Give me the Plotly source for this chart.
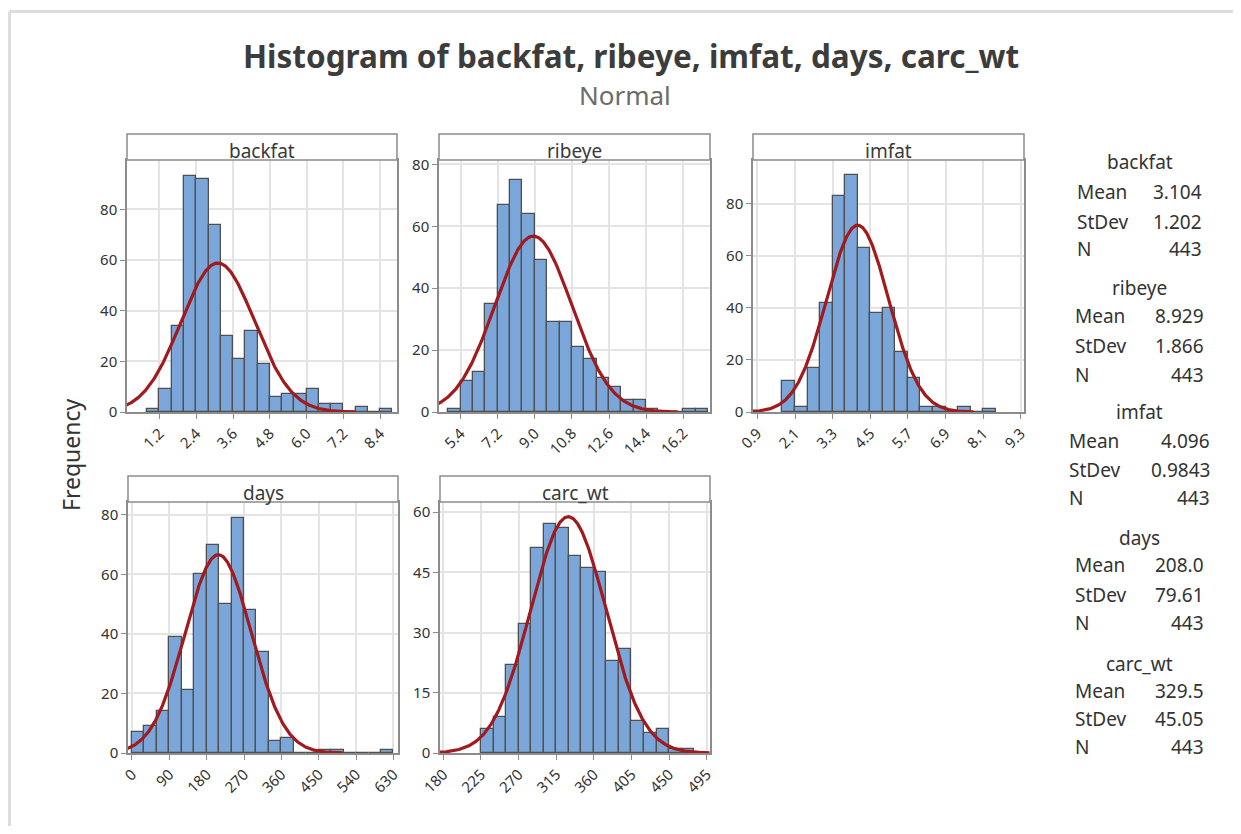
import numpy as np
import plotly.graph_objects as go

# the page body adds an 8px margin; the figure is sized to fit the 1241x834 window
OFF = 8
W, H = 1241 - 2 * OFF, 834 - 2 * OFF

# ---------------- data ----------------
variables = ["backfat", "ribeye", "imfat", "days", "carc_wt"]

backfat_first_edge = 0.8
backfat_bin_width = 0.4
backfat_counts = [1, 9, 34, 93, 92, 74, 30, 21, 32, 19, 6, 7, 7, 9, 3, 3, 0, 2, 0, 1]

ribeye_first_edge = 4.8
ribeye_bin_width = 0.6
ribeye_counts = [1, 10, 13, 35, 67, 75, 64, 49, 29, 29, 21, 17, 11, 8, 4, 4, 1, 0, 0, 1, 1]

imfat_first_edge = 1.7
imfat_bin_width = 0.4
imfat_counts = [12, 2, 17, 42, 83, 91, 63, 38, 40, 23, 13, 2, 2, 0, 2, 0, 1]

days_first_edge = 0
days_bin_width = 30
days_counts = [7, 9, 14, 39, 21, 60, 70, 50, 79, 48, 34, 4, 5, 0, 0, 1, 1, 0, 0, 0, 1]

carc_wt_first_edge = 225
carc_wt_bin_width = 15
carc_wt_counts = [6, 9, 22, 32, 51, 57, 56, 49, 46, 45, 23, 26, 8, 5, 6, 1, 1]

means = [3.104, 8.929, 4.096, 208.0, 329.5]
stdevs = [1.202, 1.866, 0.9843, 79.61, 45.05]
n_obs = [443, 443, 443, 443, 443]
mean_text = ["3.104", "8.929", "4.096", "208.0", "329.5"]
stdev_text = ["1.202", "1.866", "0.9843", "79.61", "45.05"]
n_text = ["443", "443", "443", "443", "443"]

backfat_ticks = [1.2, 2.4, 3.6, 4.8, 6.0, 7.2, 8.4]
backfat_ticktext = ["1.2", "2.4", "3.6", "4.8", "6.0", "7.2", "8.4"]
ribeye_ticks = [5.4, 7.2, 9.0, 10.8, 12.6, 14.4, 16.2]
ribeye_ticktext = ["5.4", "7.2", "9.0", "10.8", "12.6", "14.4", "16.2"]
imfat_ticks = [0.9, 2.1, 3.3, 4.5, 5.7, 6.9, 8.1, 9.3]
imfat_ticktext = ["0.9", "2.1", "3.3", "4.5", "5.7", "6.9", "8.1", "9.3"]
days_ticks = [0, 90, 180, 270, 360, 450, 540, 630]
days_ticktext = ["0", "90", "180", "270", "360", "450", "540", "630"]
carc_wt_ticks = [180, 225, 270, 315, 360, 405, 450, 495]
carc_wt_ticktext = ["180", "225", "270", "315", "360", "405", "450", "495"]

freq_ticks_a = [0, 20, 40, 60, 80]
freq_ticks_b = [0, 15, 30, 45, 60]

# ---------------- layout constants ----------------
FONT = "Noto Sans"
BAR_FILL = "#7BA6D9"
BAR_LINE = "#4F4F4F"
CURVE = "#A01A1E"
FRAME = "#8C8C8C"
GRID = "#E4E4E4"
TXT = "#333333"

# panel pixel boxes in window pixels: (left, right, top, bottom) of plot area
panels = [
    (127, 397, 160, 412),
    (439, 710, 160, 412),
    (753, 1024, 160, 412),
    (128, 398, 502, 753),
    (440, 710, 502, 753),
]
strip_h = 26
x_ranges = [(0.14, 8.95), (4.35, 17.5), (0.76, 9.4), (-9.6, 641), (176, 499)]
y_ranges = [(0, 99.5), (0, 81.4), (0, 96.9), (0, 84.3), (0, 62.5)]

hist = [
    (backfat_first_edge, backfat_bin_width, backfat_counts, backfat_ticks, backfat_ticktext, freq_ticks_a),
    (ribeye_first_edge, ribeye_bin_width, ribeye_counts, ribeye_ticks, ribeye_ticktext, freq_ticks_a),
    (imfat_first_edge, imfat_bin_width, imfat_counts, imfat_ticks, imfat_ticktext, freq_ticks_a),
    (days_first_edge, days_bin_width, days_counts, days_ticks, days_ticktext, freq_ticks_a),
    (carc_wt_first_edge, carc_wt_bin_width, carc_wt_counts, carc_wt_ticks, carc_wt_ticktext, freq_ticks_b),
]


def px_x(p):
    return (p - OFF) / W


def px_y(p):
    return 1 - (p - OFF) / H


TICK_SIZE = 15
STAT_SIZE = 19

fig = go.Figure()
layout = dict(
    width=W, height=H,
    margin=dict(l=0, r=0, t=0, b=0, pad=0, autoexpand=False),
    paper_bgcolor="white", plot_bgcolor="white",
    showlegend=False,
    font=dict(family=FONT, color=TXT),
)
shapes = []
annotations = []

for i, name in enumerate(variables):
    first, bw, counts, xt, xtt, yt = hist[i]
    ax = "" if i == 0 else str(i + 1)
    centers = [first + bw * (k + 0.5) for k in range(len(counts))]
    fig.add_trace(go.Bar(
        x=centers, y=counts, width=bw,
        marker=dict(color=BAR_FILL, line=dict(color=BAR_LINE, width=1.3)),
        xaxis="x" + ax, yaxis="y" + ax, hoverinfo="x+y",
    ))
    # fitted normal curve
    mu, sd, n = means[i], stdevs[i], n_obs[i]
    xs = np.linspace(mu - 3.75 * sd, mu + 3.75 * sd, 400)
    ys = n * bw / (sd * np.sqrt(2 * np.pi)) * np.exp(-0.5 * ((xs - mu) / sd) ** 2)
    fig.add_trace(go.Scatter(
        x=xs, y=ys, mode="lines", line=dict(color=CURVE, width=3.2),
        xaxis="x" + ax, yaxis="y" + ax, hoverinfo="skip",
    ))
    l, r, t, b = panels[i]
    layout["xaxis" + ax] = dict(
        domain=[px_x(l), px_x(r)], anchor="y" + ax, range=list(x_ranges[i]),
        tickvals=xt, ticktext=xtt, tickangle=-45, automargin=False,
        ticks="outside", ticklen=5, tickcolor=FRAME, tickwidth=1,
        tickfont=dict(size=TICK_SIZE, color=TXT, family=FONT),
        showgrid=True, gridcolor=GRID, gridwidth=1.5,
        showline=True, linecolor=FRAME, linewidth=1.5, mirror=True,
        zeroline=False, fixedrange=True,
    )
    layout["yaxis" + ax] = dict(
        domain=[px_y(b), px_y(t)], anchor="x" + ax, range=list(y_ranges[i]),
        tickvals=yt, ticks="outside", ticklen=5, tickcolor=FRAME, tickwidth=1,
        automargin=False,
        tickfont=dict(size=TICK_SIZE, color=TXT, family=FONT),
        showgrid=True, gridcolor=GRID, gridwidth=1.5,
        showline=True, linecolor=FRAME, linewidth=1.5, mirror=True,
        zeroline=False, fixedrange=True,
    )
    # strip
    shapes.append(dict(
        type="rect", xref="paper", yref="paper",
        x0=px_x(l), x1=px_x(r), y0=px_y(t), y1=px_y(t - strip_h),
        fillcolor="white", line=dict(color=FRAME, width=1.5), layer="above",
    ))
    annotations.append(dict(
        text=name, xref="paper", yref="paper",
        x=px_x((l + r) / 2), y=px_y(t + 6), xanchor="center", yanchor="bottom",
        showarrow=False, font=dict(size=19, color="#3A3A3A", family=FONT),
    ))

# outer light frame (top and left edges visible)
shapes.append(dict(
    type="line", xref="paper", yref="paper",
    x0=px_x(9.5), x1=1.0, y0=px_y(11.5), y1=px_y(11.5),
    line=dict(color="#DDDDDD", width=3), layer="below",
))
shapes.append(dict(
    type="line", xref="paper", yref="paper",
    x0=px_x(9.5), x1=px_x(9.5), y0=px_y(11.5), y1=0.0,
    line=dict(color="#DDDDDD", width=3), layer="below",
))

# titles
annotations.append(dict(
    text="<b>Histogram of backfat, ribeye, imfat, days, carc_wt</b>",
    xref="paper", yref="paper", x=px_x(631), y=px_y(55),
    xanchor="center", yanchor="middle", showarrow=False,
    font=dict(size=31.5, color="#3C3C3C", family=FONT),
))
annotations.append(dict(
    text="Normal", xref="paper", yref="paper", x=px_x(625), y=px_y(95),
    xanchor="center", yanchor="middle", showarrow=False,
    font=dict(size=26, color="#6B6B6B", family=FONT),
))
annotations.append(dict(
    text="Frequency", xref="paper", yref="paper", x=px_x(71), y=px_y(455),
    xanchor="center", yanchor="middle", showarrow=False, textangle=-90,
    font=dict(size=23, color=TXT, family=FONT),
))

# statistics panel
stat_blocks = [
    # header y, mean y, stdev y, n y, left x, right x
    (162, 192, 222, 249, 1075, 1204),
    (288, 316, 346, 375, 1073, 1206),
    (412, 441, 470, 498, 1067, 1212),
    (538, 565, 595, 623, 1073, 1206),
    (664, 691, 719, 747, 1073, 1206),
]
for i, name in enumerate(variables):
    hy, my, sy, ny, lx, rx = stat_blocks[i]
    annotations.append(dict(
        text=name, xref="paper", yref="paper", x=px_x((lx + rx) / 2), y=px_y(hy),
        xanchor="center", yanchor="middle", showarrow=False,
        font=dict(size=STAT_SIZE, color=TXT, family=FONT),
    ))
    for lab, val, yy in (("Mean", mean_text[i], my), ("StDev", stdev_text[i], sy), ("N", n_text[i], ny)):
        annotations.append(dict(
            text=lab, xref="paper", yref="paper", x=px_x(lx), y=px_y(yy),
            xanchor="left", yanchor="middle", showarrow=False,
            font=dict(size=STAT_SIZE, color=TXT, family=FONT),
        ))
        annotations.append(dict(
            text=val, xref="paper", yref="paper", x=px_x(rx), y=px_y(yy),
            xanchor="right", yanchor="middle", showarrow=False,
            font=dict(size=STAT_SIZE, color=TXT, family=FONT),
        ))

layout["shapes"] = shapes
layout["annotations"] = annotations
layout["bargap"] = 0
fig.update_layout(**layout)
fig.write_html("out.html")
